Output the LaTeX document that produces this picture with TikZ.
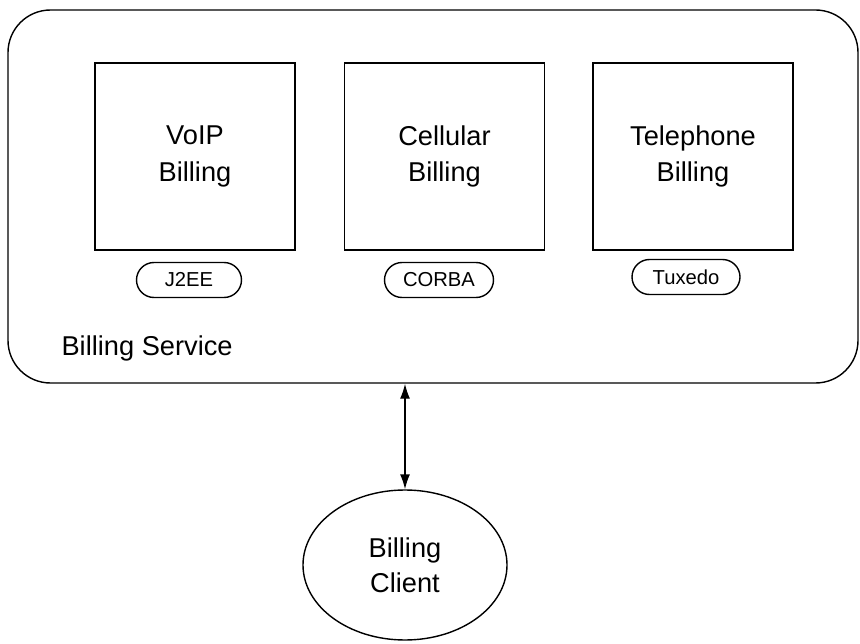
\documentclass[tikz,border=0pt]{standalone}
\usepackage{fontspec}
\setmainfont{Liberation Sans}
\usetikzlibrary{shapes.geometric,arrows.meta}
\begin{document}
\begin{tikzpicture}[line width=0.8pt,
		sys/.style={draw,rectangle,minimum width=4cm,minimum height=3.74cm,align=center,font=\fontsize{15.5}{21}\selectfont},
		tech/.style={draw,rectangle,rounded corners=0.35cm,minimum height=0.7cm,font=\fontsize{11.5}{13}\selectfont}]
			\useasboundingbox (0,0) rectangle (17.2,-12.88);
			\node [draw,rectangle,rounded corners=0.85cm,minimum width=17cm,minimum height=7.46cm] (S) at (8.66,-3.93) {};
			\node [anchor=west,font=\fontsize{15.5}{19}\selectfont] (L) at (1.1,-6.96) {Billing Service};
			
			\node [sys] (B0) at (3.9,-3.13) {VoIP\\Billing};
			\node [sys] (B1) at (8.89,-3.13) {Cellular\\Billing};
			\node [sys] (B2) at (13.86,-3.13) {Telephone\\Billing};
			
			\node [tech,minimum width=2.1cm] (P0) at (3.78,-5.6) {J2EE};
			\node [tech,minimum width=2.18cm] (P1) at (8.78,-5.6) {CORBA};
			\node [tech,minimum width=2.16cm] (P2) at (13.72,-5.54) {Tuxedo};
			
			\node [draw,ellipse,minimum width=4.08cm,minimum height=3cm,align=center,font=\fontsize{15.5}{20}\selectfont] (C) at (8.1,-11.3) {Billing\\Client};
			
			\draw [{Latex[length=3mm,width=2mm]}-{Latex[length=3mm,width=2mm]}] (C.north) -- (C.north |- S.south);
		\end{tikzpicture}
\end{document}
